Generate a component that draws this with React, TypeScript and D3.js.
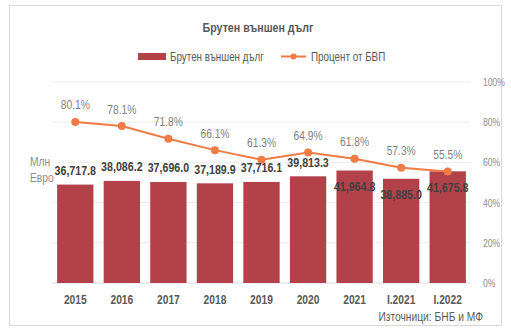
import React from "react";
import * as d3 from "d3";

const categories = ["2015", "2016", "2017", "2018", "2019", "2020", "2021", "I.2021", "I.2022"];
const debtValues = [36717.8, 38086.2, 37696.0, 37189.9, 37716.1, 39813.3, 41964.8, 38885.0, 41675.8];
const gdpPercent = [80.1, 78.1, 71.8, 66.1, 61.3, 64.9, 61.8, 57.3, 55.5];
const percentTicks = [0, 20, 40, 60, 80, 100];

const W = 511;
const H = 331;
const FONT = "'Liberation Sans', Arial, sans-serif";
const BAR = "#B3414A";
const LINE = "#EF7B45";
const SX = 0.82;

type TProps = {
  x: number;
  y: number;
  anchor?: "start" | "middle" | "end";
  size: number;
  bold?: boolean;
  fill: string;
  children: React.ReactNode;
};

function T({ x, y, anchor = "start", size, bold, fill, children }: TProps) {
  return (
    <text
      transform={`translate(${x},${y}) scale(${SX},1)`}
      textAnchor={anchor}
      fontSize={size}
      fontWeight={bold ? "bold" : "normal"}
      fill={fill}
    >
      {children}
    </text>
  );
}

export default function App() {
  const left = 52, right = 471, top = 82, bottom = 283;
  const x = d3.scaleBand<string>().domain(categories).range([left, right]).paddingInner(0.22).paddingOuter(0.11);
  const yL = d3.scaleLinear().domain([0, 75000]).range([bottom, top]);
  const yR = d3.scaleLinear().domain([0, 100]).range([bottom, top]);
  const cxOf = (i: number) => x(categories[i])! + x.bandwidth() / 2;
  const line = d3.line<number>().x((_, i) => cxOf(i)).y((d) => yR(d));
  const fmt = d3.format(",.1f");

  return (
    <svg width={W} height={H} style={{ position: "absolute", left: 0, top: 0, fontFamily: FONT }}>
      <rect x={0} y={0} width={W} height={H} fill="#fff" />
      <rect x={9.5} y={5.5} width={492} height={320} fill="#fff" stroke="#d9d9d9" />
      <T x={258} y={32} anchor="middle" size={13} bold fill="#595959">Брутен външен дълг</T>
      {/* legend */}
      <rect x={138} y={53} width={28} height={7} fill={BAR} />
      <T x={170} y={60.5} size={12} fill="#595959">Брутен външен дълг</T>
      <line x1={281} x2={306} y1={56.5} y2={56.5} stroke={LINE} strokeWidth={2} />
      <circle cx={293.5} cy={56.5} r={3} fill={LINE} />
      <T x={311} y={60.5} size={12} fill="#595959">Процент от БВП</T>
      {/* grid */}
      {percentTicks.map((t) => (
        <g key={t}>
          <line x1={left} x2={right} y1={yR(t)} y2={yR(t)} stroke={t === 0 ? "#d9d9d9" : "#ececec"} strokeWidth={1} />
          <T x={483} y={yR(t) + 4} size={10.5} fill="#8c8c8c">{`${t}%`}</T>
        </g>
      ))}
      {/* bars */}
      {debtValues.map((v, i) => (
        <rect key={i} x={x(categories[i])} y={yL(v)} width={x.bandwidth()} height={bottom - yL(v)} fill={BAR} />
      ))}
      {/* line */}
      <path d={line(gdpPercent) || ""} fill="none" stroke={LINE} strokeWidth={2} />
      {gdpPercent.map((p, i) => (
        <circle key={i} cx={cxOf(i)} cy={yR(p)} r={4} fill={LINE} />
      ))}
      {/* percent labels */}
      {gdpPercent.map((p, i) => (
        <T key={i} x={cxOf(i)} y={yR(p) - 12.5} anchor="middle" size={12.5} fill="#7f7f7f">{`${p.toFixed(1)}%`}</T>
      ))}
      {/* bar labels */}
      {debtValues.map((v, i) => {
        const above = yL(v) - 14;
        const inside = above - yR(gdpPercent[i]) < 5;
        const cy = inside ? yL(v) + 16 : above;
        return (
          <T key={i} x={cxOf(i)} y={cy + 4.5} anchor="middle" size={13} bold fill="#404040">{fmt(v)}</T>
        );
      })}
      {/* x labels */}
      {categories.map((c, i) => (
        <T key={c} x={cxOf(i)} y={304} anchor="middle" size={12.5} bold fill="#595959">{c}</T>
      ))}
      <T x={30} y={166} size={12.5} fill="#8c8c8c">Млн</T>
      <T x={30} y={182} size={12.5} fill="#8c8c8c">Евро</T>
      <T x={483} y={321} anchor="end" size={12.5} fill="#595959">Източници: БНБ и МФ</T>
    </svg>
  );
}
